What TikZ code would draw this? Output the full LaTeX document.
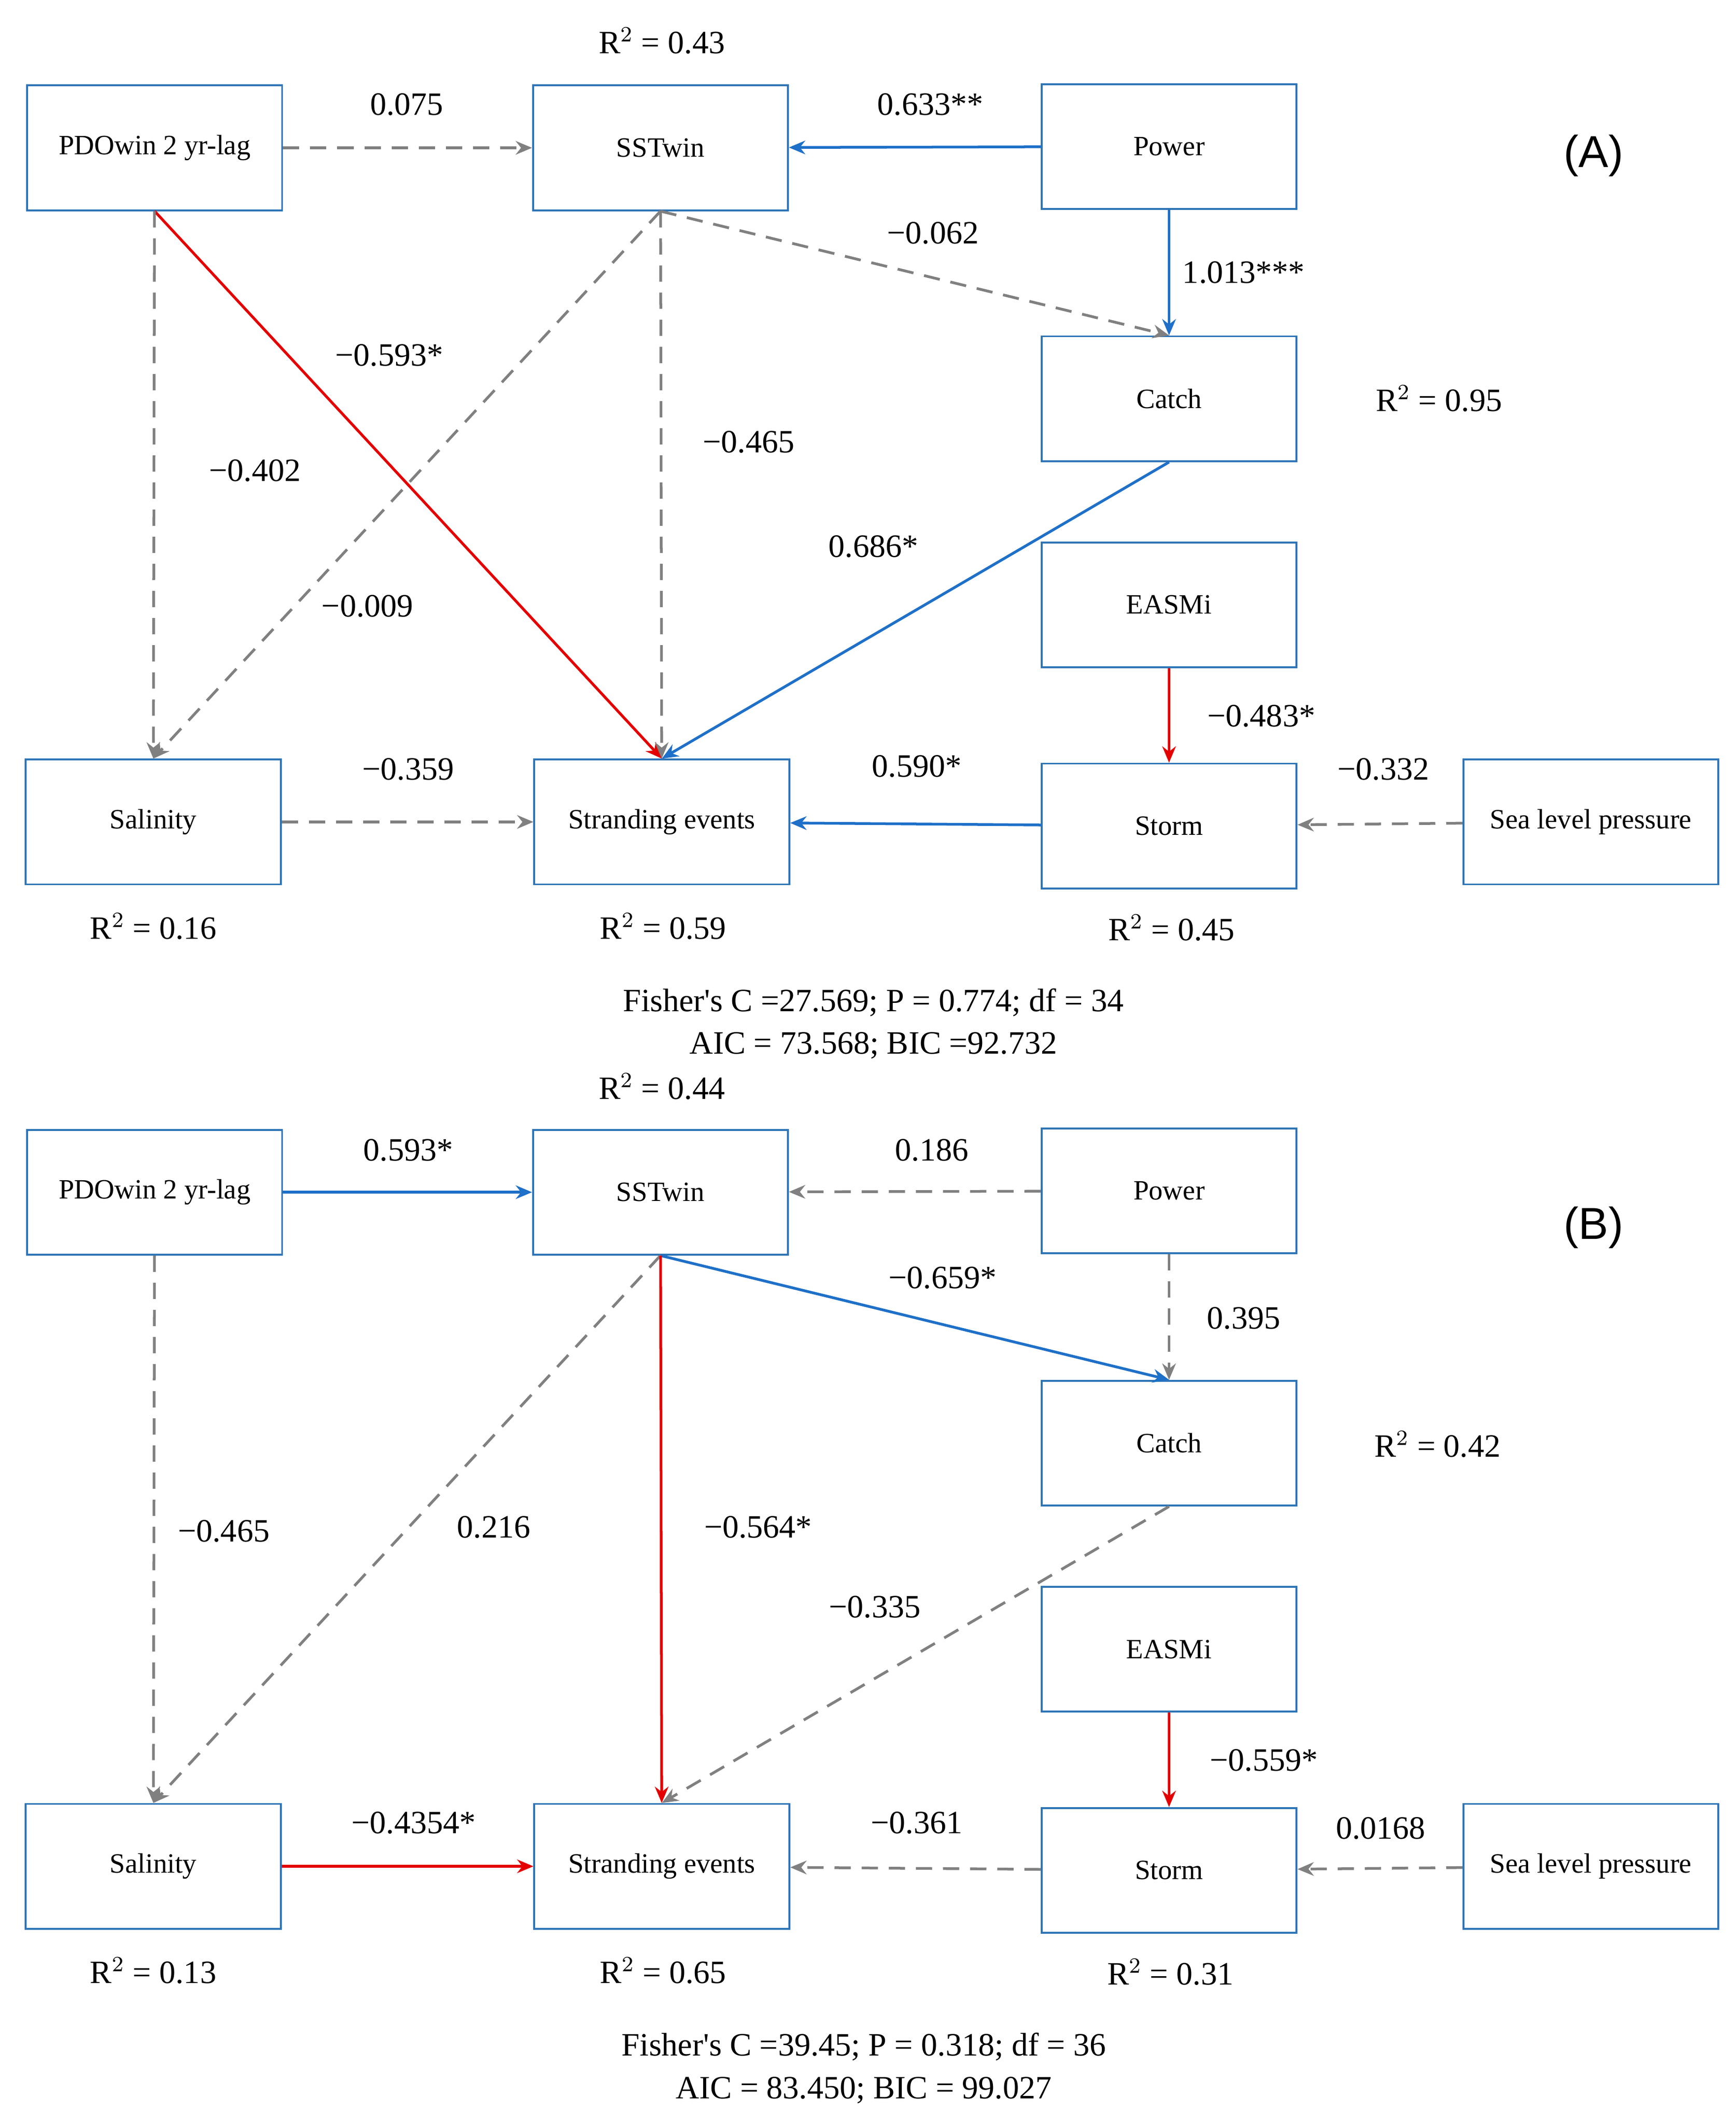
\documentclass[tikz,border=0pt]{standalone}
\usepackage{fontspec}
\setmainfont{Liberation Serif}
\newfontfamily\arialf{Liberation Sans}
\usetikzlibrary{arrows.meta}
\definecolor{bx}{RGB}{46,117,182}
\definecolor{bl}{RGB}{30,112,200}
\definecolor{rd}{RGB}{228,0,0}
\definecolor{gr}{RGB}{128,128,128}
\begin{document}
\begin{tikzpicture}[x=0.5pt,y=-0.5pt,
 box/.style={draw=bx,line width=0.7pt,minimum width=94pt,minimum height=46pt,inner sep=0pt,font=\fontsize{10.3}{12}\selectfont},
 lab/.style={font=\fontsize{12}{14}\selectfont,inner sep=0pt},
 e/.style={line width=1pt,-{Stealth[length=6pt,width=5pt]}},
 ds/.style={e,gr,dash pattern=on 6pt off 4pt},
 bs/.style={e,bl},
 rs/.style={e,rd}]
\useasboundingbox (0,0) rectangle (1280,1566);
% Panel A
\node[box] (aP) at (114,109) {PDOwin 2 yr-lag};
\node[box] (aS) at (487,109) {SSTwin};
\node[box] (aW) at (862,108) {Power};
\node[box] (aC) at (862,294) {Catch};
\node[box] (aE) at (862,446) {EASMi};
\node[box] (aT) at (862,609) {Storm};
\node[box] (aL) at (1173,606) {Sea level pressure};
\node[box] (aA) at (113,606) {Salinity};
\node[box] (aX) at (488,606) {Stranding events};
\draw[ds] (aP) -- (aS);
\draw[bs] (aW) -- (aS);
\draw[bs] (aW) -- (aC);
\draw[ds] (aS.south) -- (aC.north);
\draw[rs] (aP.south) -- (aX.north);
\draw[ds] (aP) -- (aA);
\draw[ds] (aS.south) -- (aA.north);
\draw[ds] (aS) -- (aX);
\draw[bs] (aC.south) -- (aX.north);
\draw[rs] (aE) -- (aT);
\draw[bs] (aT) -- (aX);
\draw[ds] (aL) -- (aT);
\draw[ds] (aA) -- (aX);
\node[lab] (la1) at (300,77) {0.075};
\node[lab] (la2) at (686,77) {0.633**};
\node[lab] (la3) at (917,201) {1.013***};
\node[lab] (la4) at (688,172) {−0.062};
\node[lab] (la5) at (287,262) {−0.593*};
\node[lab] (la6) at (188,347) {−0.402};
\node[lab] (la7) at (271,447) {−0.009};
\node[lab] (la8) at (552,326) {−0.465};
\node[lab] (la9) at (644,403) {0.686*};
\node[lab] (la10) at (930,528) {−0.483*};
\node[lab] (la11) at (676,565) {0.590*};
\node[lab] (la12) at (1020,567) {−0.332};
\node[lab] (la13) at (301,567) {−0.359};
\node[lab] (ra1) at (488,30) {R$^{2}$ = 0.43};
\node[lab] (ra2) at (1061,294) {R$^{2}$ = 0.95};
\node[lab] (ra3) at (113,683) {R$^{2}$ = 0.16};
\node[lab] (ra4) at (489,683) {R$^{2}$ = 0.59};
\node[lab] (ra5) at (864,684) {R$^{2}$ = 0.45};
\node[lab] (fa1) at (644,739) {Fisher\textquotesingle s C =27.569; P = 0.774; df = 34};
\node[lab] (fa2) at (644,771) {AIC = 73.568; BIC =92.732};
\node[font=\fontsize{16.5}{18}\arialf] (tA) at (1175,115) {(A)};
% Panel B
\node[box] (bP) at (114,879) {PDOwin 2 yr-lag};
\node[box] (bS) at (487,879) {SSTwin};
\node[box] (bW) at (862,878) {Power};
\node[box] (bC) at (862,1064) {Catch};
\node[box] (bE) at (862,1216) {EASMi};
\node[box] (bT) at (862,1379) {Storm};
\node[box] (bL) at (1173,1376) {Sea level pressure};
\node[box] (bA) at (113,1376) {Salinity};
\node[box] (bX) at (488,1376) {Stranding events};
\draw[bs] (bP) -- (bS);
\draw[ds] (bW) -- (bS);
\draw[ds] (bW) -- (bC);
\draw[bs] (bS.south) -- (bC.north);
\draw[ds] (bP) -- (bA);
\draw[ds] (bS.south) -- (bA.north);
\draw[rs] (bS) -- (bX);
\draw[ds] (bC.south) -- (bX.north);
\draw[rs] (bE) -- (bT);
\draw[ds] (bT) -- (bX);
\draw[ds] (bL) -- (bT);
\draw[rs] (bA) -- (bX);
\node[lab] (lb1) at (301,848) {0.593*};
\node[lab] (lb2) at (687,848) {0.186};
\node[lab] (lb3) at (917,972) {0.395};
\node[lab] (lb4) at (695,942) {−0.659*};
\node[lab] (lb5) at (165,1129) {−0.465};
\node[lab] (lb6) at (364,1126) {0.216};
\node[lab] (lb7) at (559,1126) {−0.564*};
\node[lab] (lb8) at (645,1185) {−0.335};
\node[lab] (lb9) at (932,1298) {−0.559*};
\node[lab] (lb10) at (676,1344) {−0.361};
\node[lab] (lb11) at (1018,1348) {0.0168};
\node[lab] (lb12) at (305,1344) {−0.4354*};
\node[lab] (rb1) at (488,801) {R$^{2}$ = 0.44};
\node[lab] (rb2) at (1060,1065) {R$^{2}$ = 0.42};
\node[lab] (rb3) at (113,1453) {R$^{2}$ = 0.13};
\node[lab] (rb4) at (489,1453) {R$^{2}$ = 0.65};
\node[lab] (rb5) at (863,1454) {R$^{2}$ = 0.31};
\node[lab] (fb1) at (637,1509) {Fisher\textquotesingle s C =39.45; P = 0.318; df = 36};
\node[lab] (fb2) at (637,1541) {AIC = 83.450; BIC = 99.027};
\node[font=\fontsize{16.5}{18}\arialf] (tB) at (1175,905) {(B)};
\end{tikzpicture}
\end{document}
